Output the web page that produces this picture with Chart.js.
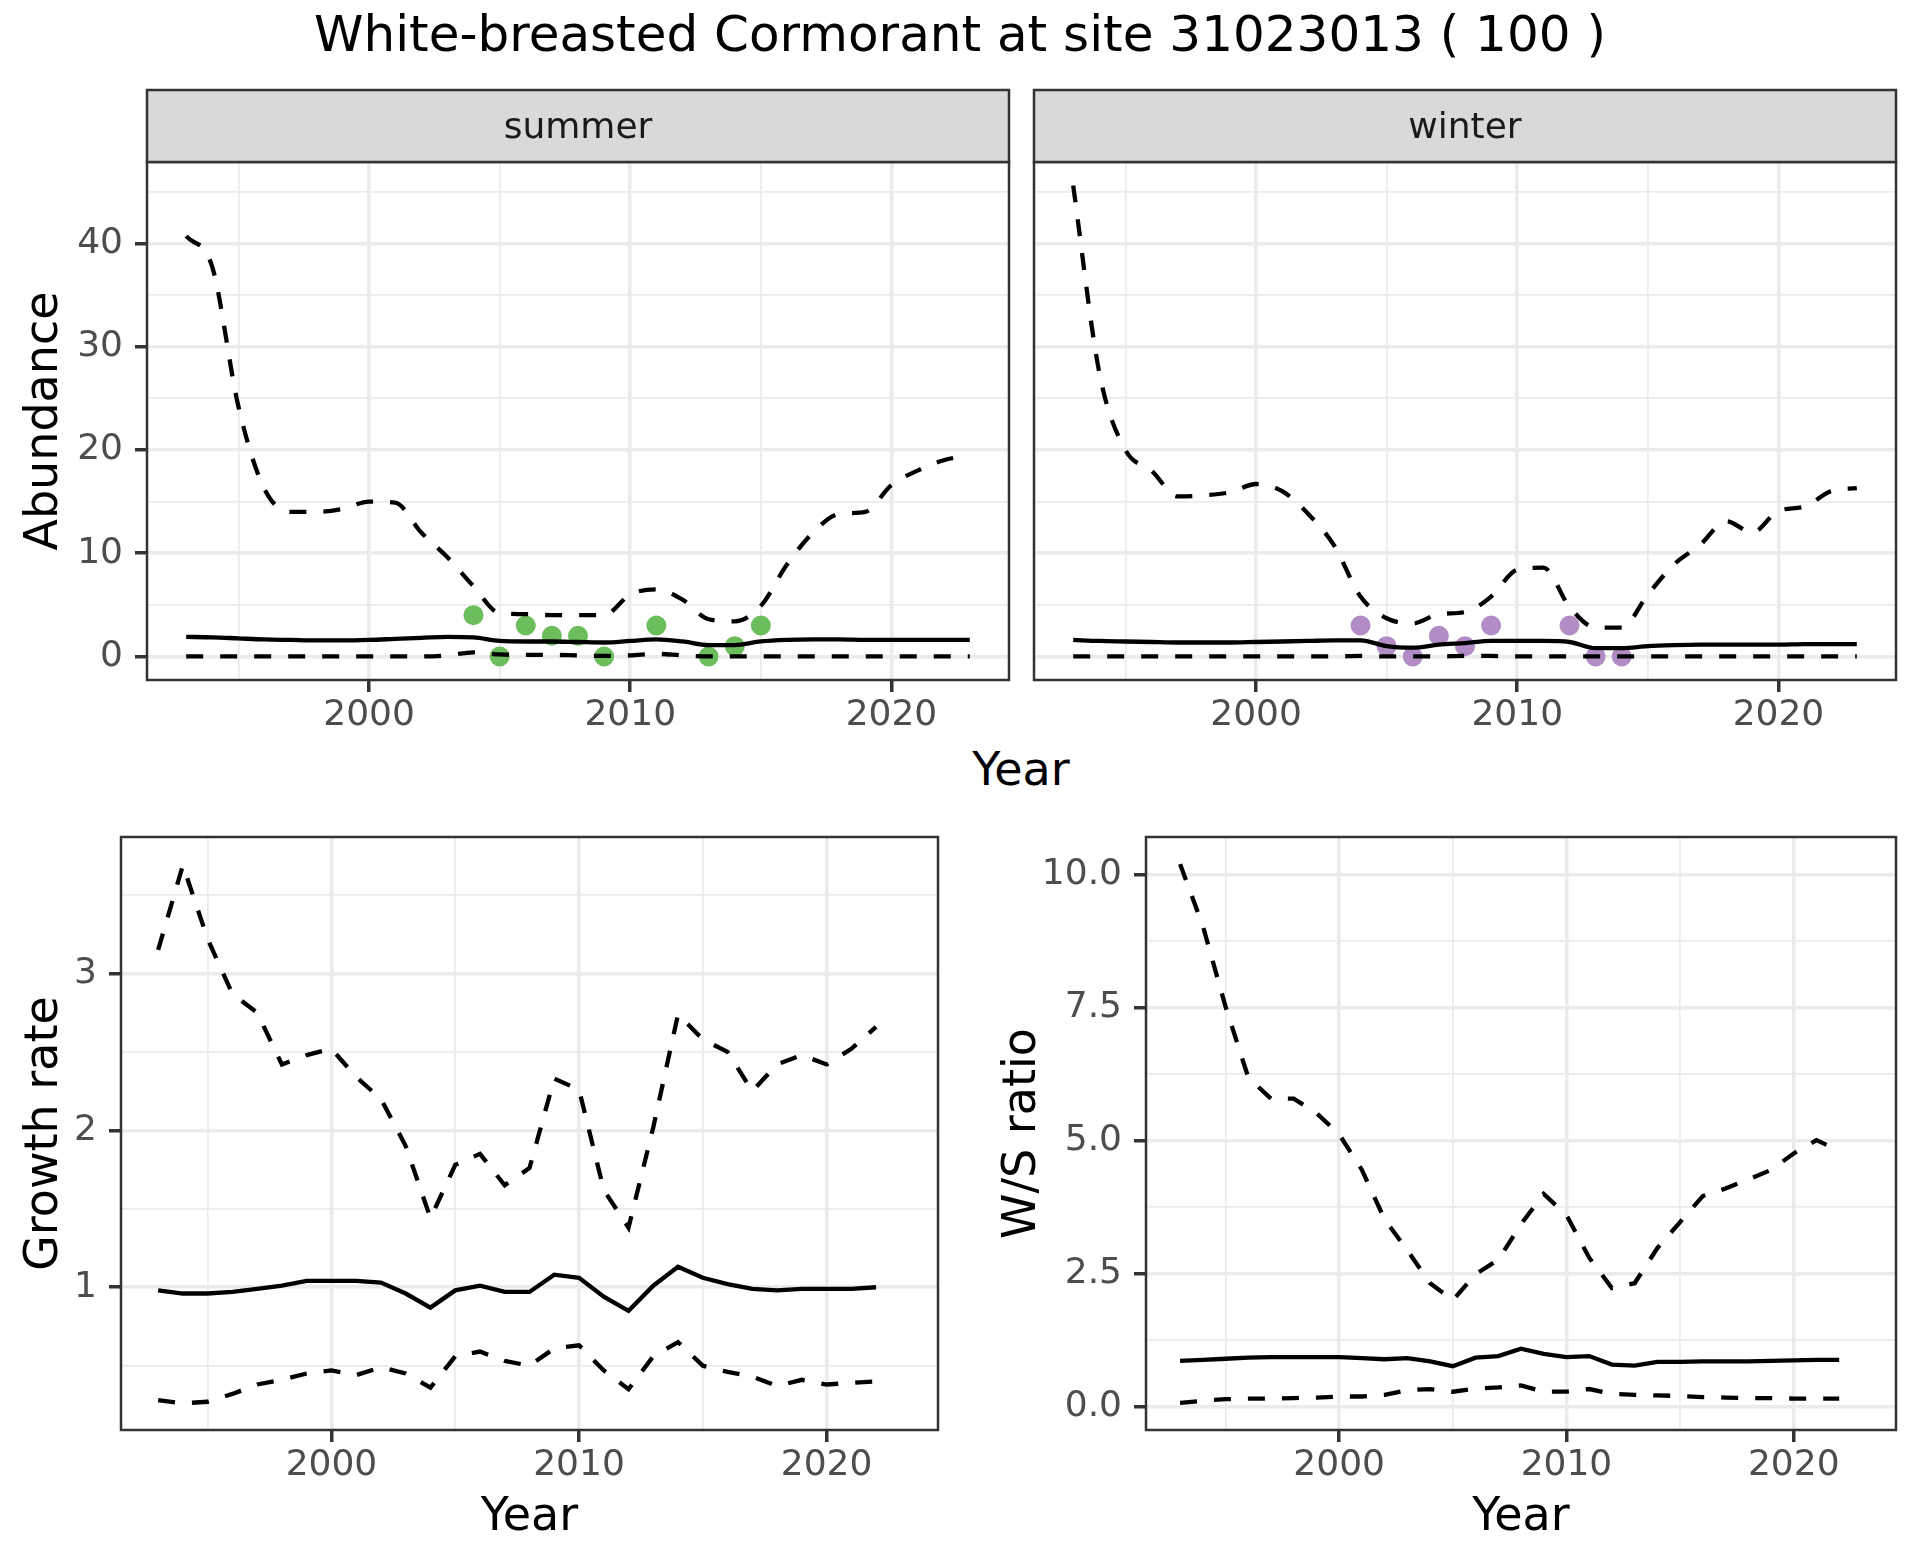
<!DOCTYPE html>
<html>
<head>
<meta charset="utf-8">
<script src="https://cdn.jsdelivr.net/npm/chart.js@4.4.1/dist/chart.umd.min.js"></script>
<style>
  body { margin: 0; background: #fff; }
  #wrap { position: relative; width: 1920px; height: 1560px; background: #fff; font-family: "DejaVu Sans", sans-serif; }
  canvas { position: absolute; }
  .lbl { position: absolute; white-space: nowrap; transform: translate(-50%, -50%); line-height: 1; color: #000; }
</style>
</head>
<body>
<div id="wrap">
  <div class="lbl" style="left:960px; top:34px; font-size:50px;">White-breasted Cormorant at site 31023013 ( 100 )</div>
  <div class="lbl" style="left:1021px; top:769px; font-size:46px;">Year</div>
  <canvas id="c-summer" style="left:0; top:80px;" width="1020" height="680"></canvas>
  <canvas id="c-winter" style="left:1020px; top:80px;" width="900" height="680"></canvas>
  <canvas id="c-growth" style="left:0; top:780px;" width="960" height="780"></canvas>
  <canvas id="c-ratio" style="left:960px; top:780px;" width="960" height="780"></canvas>
</div>
<script>
// ── data ────────────────────────────────────────────────────────────────
const yearsAbund = [1993,1994,1995,1996,1997,1998,1999,2000,2001,2002,2003,2004,2005,2006,2007,
  2008,2009,2010,2011,2012,2013,2014,2015,2016,2017,2018,2019,2020,2021,2022,2023];
const yearsRate = yearsAbund.slice(0, 30);

const summerUpper = [40.7,37.7,24.2,16.2,14.0,14.0,14.3,15.0,14.9,12.0,9.6,6.8,4.2,4.1,4.0,
  4.0,4.0,6.0,6.5,5.5,3.6,3.4,4.9,8.9,12.0,13.8,14.0,16.6,18.0,19.0,19.5];
const summerMean = [1.9,1.85,1.75,1.65,1.6,1.55,1.55,1.6,1.7,1.8,1.9,1.85,1.5,1.45,1.45,
  1.4,1.35,1.5,1.65,1.45,1.1,1.1,1.45,1.6,1.65,1.65,1.6,1.6,1.6,1.6,1.6];
const summerLower = [0,0,0,0,0,0,0,0,0,0,0.1,0.4,0.2,0.15,0.15,
  0.1,0.05,0.1,0.25,0.1,0,0,0,0,0,0,0,0,0,0,0];
const summerObsYears = [2004,2005,2006,2007,2008,2009,2011,2013,2014,2015];
const summerObs = [4,0,3,2,2,0,3,0,1,3];

const winterUpper = [45.6,27.5,20.0,18.0,15.5,15.6,15.9,16.7,16.0,13.8,10.7,5.8,3.7,3.2,4.1,
  4.3,5.8,8.4,8.6,4.8,2.8,2.8,6.0,8.9,10.8,13.1,12.0,14.1,14.5,16.0,16.3];
const winterMean = [1.6,1.5,1.45,1.4,1.35,1.35,1.35,1.4,1.45,1.5,1.55,1.55,1.0,0.85,1.15,
  1.3,1.5,1.5,1.5,1.4,0.8,0.8,1.0,1.1,1.15,1.15,1.15,1.15,1.2,1.2,1.2];
const winterLower = [0,0,0,0,0,0,0,0,0,0,0,0.05,0,0,0,
  0.05,0.05,0,0,0,0,0,0,0,0,0,0,0,0,0,0];
const winterObsYears = [2004,2005,2006,2007,2008,2009,2012,2013,2014];
const winterObs = [3,1,0,2,1,3,3,0,0];

const growthUpper = [3.15,3.69,3.22,2.87,2.75,2.42,2.48,2.52,2.34,2.2,1.9,1.44,1.78,1.85,1.65,
  1.76,2.33,2.26,1.62,1.38,2.02,2.74,2.58,2.5,2.25,2.42,2.48,2.42,2.52,2.66];
const growthMean = [0.98,0.96,0.96,0.97,0.99,1.01,1.04,1.04,1.04,1.03,0.96,0.87,0.98,1.01,0.97,
  0.97,1.08,1.06,0.94,0.85,1.01,1.13,1.06,1.02,0.99,0.98,0.99,0.99,0.99,1.0];
const growthLower = [0.28,0.26,0.27,0.32,0.38,0.41,0.45,0.47,0.44,0.49,0.45,0.36,0.56,0.59,0.53,
  0.5,0.61,0.63,0.47,0.35,0.56,0.65,0.5,0.46,0.43,0.37,0.41,0.38,0.39,0.4];

const ratioUpper = [10.2,9.04,7.52,6.19,5.79,5.79,5.52,5.12,4.45,3.52,2.94,2.32,2.0,2.49,2.76,
  3.43,4.0,3.6,2.8,2.23,2.32,2.98,3.47,3.96,4.1,4.27,4.45,4.76,5.01,4.81];
const ratioMean = [0.86,0.88,0.9,0.92,0.93,0.93,0.93,0.93,0.91,0.89,0.91,0.85,0.76,0.92,0.95,
  1.09,0.99,0.93,0.95,0.79,0.77,0.84,0.84,0.85,0.85,0.85,0.86,0.87,0.88,0.88];
const ratioLower = [0.07,0.11,0.14,0.15,0.15,0.16,0.17,0.19,0.19,0.22,0.31,0.33,0.28,0.34,0.36,
  0.4,0.28,0.28,0.33,0.24,0.22,0.21,0.2,0.18,0.17,0.16,0.16,0.15,0.15,0.15];

// tick breaks (major get labels, minor only a thin grid line)
const yearMajor = [2000, 2010, 2020];
const yearMinor = [1995, 2005, 2015];
const abundMajor = [0, 10, 20, 30, 40];
const abundMinor = [5, 15, 25, 35, 45];
const growthMajor = [1, 2, 3];
const growthMinor = [0.5, 1.5, 2.5, 3.5];
const ratioMajor = [0, 2.5, 5, 7.5, 10];
const ratioMinor = [1.25, 3.75, 6.25, 8.75];

// ── shared styling ──────────────────────────────────────────────────────
const FONT = "'DejaVu Sans', sans-serif";
const pts = (xs, ys) => xs.map((x, i) => ({ x, y: ys[i] }));

function gridOpts(major, showTicks) {
  const isMajor = ctx => ctx.tick && major.includes(ctx.tick.value);
  return {
    color: "#EBEBEB",
    lineWidth: ctx => isMajor(ctx) ? 3.5 : 1.75,
    drawTicks: showTicks,
    tickLength: 12,
    tickWidth: 3.5,
    tickColor: ctx => isMajor(ctx) ? "#333333" : "rgba(0,0,0,0)",
  };
}

function axis(min, max, major, minor, opts) {
  const o = opts || {};
  return {
    type: "linear",
    min, max,
    afterBuildTicks: s => { s.ticks = major.concat(minor).sort((a, b) => a - b).map(v => ({ value: v })); },
    afterFit: s => { if (o.width != null) s.width = o.width; if (o.height != null) s.height = o.height; },
    grid: gridOpts(major, o.showTicks !== false),
    border: { display: false },
    ticks: {
      display: o.showTicks !== false,
      autoSkip: false, maxRotation: 0, minRotation: 0,
      padding: o.tickPad != null ? o.tickPad : 12,
      color: "#4D4D4D",
      font: { family: FONT, size: 36 },
      callback: v => major.includes(v) ? (o.fmt ? o.fmt(v) : String(v)) : "",
    },
    title: o.title ? {
      display: true, text: o.title, color: "#000",
      font: { family: FONT, size: 46, lineHeight: 1 },
      padding: o.titlePad,
    } : { display: false },
  };
}

function lineSets(xs, upper, mean, lower, smooth) {
  const base = { borderColor: "#000", borderWidth: 4.3, pointRadius: 0, fill: false, tension: 0,
    cubicInterpolationMode: smooth ? "monotone" : "default", borderCapStyle: "butt" };
  return [
    { ...base, data: pts(xs, upper), borderDash: [17, 17] },
    { ...base, data: pts(xs, lower), borderDash: [17, 17] },
    { ...base, data: pts(xs, mean) },
  ];
}

const panelBorder = {
  id: "panelBorder",
  afterDatasetsDraw(chart) {
    const { ctx, chartArea: a } = chart;
    ctx.save();
    ctx.strokeStyle = "#333333";
    ctx.lineWidth = 2.5;
    ctx.strokeRect(a.left, a.top, a.right - a.left, a.bottom - a.top);
    ctx.restore();
  },
};

function strip(label) {
  return {
    id: "strip",
    afterDraw(chart) {
      const { ctx, chartArea: a } = chart;
      const top = 10;
      ctx.save();
      ctx.fillStyle = "#D9D9D9";
      ctx.fillRect(a.left, top, a.right - a.left, a.top - top);
      ctx.strokeStyle = "#333333";
      ctx.lineWidth = 2.5;
      ctx.strokeRect(a.left, top, a.right - a.left, a.top - top);
      ctx.fillStyle = "#1A1A1A";
      ctx.font = "36px " + FONT;
      ctx.textAlign = "center";
      ctx.textBaseline = "middle";
      ctx.fillText(label, (a.left + a.right) / 2, (top + a.top) / 2 + 3);
      ctx.restore();
    },
  };
}

const common = {
  responsive: false,
  animation: false,
  events: [],
  plugins: { legend: { display: false }, tooltip: { enabled: false } },
};

// ── 1. summer abundance ────────────────────────────────────────────────
new Chart(document.getElementById("c-summer"), {
  type: "line",
  data: {
    datasets: [
      ...lineSets(yearsAbund, summerUpper, summerMean, summerLower, true),
      { type: "scatter", data: pts(summerObsYears, summerObs), backgroundColor: "#6CBD5C",
        borderWidth: 0, pointRadius: 10 },
    ],
  },
  options: {
    ...common,
    layout: { padding: { top: 82, right: 11, left: 0, bottom: 0 } },
    scales: {
      x: axis(1991.5, 2024.5, yearMajor, yearMinor, { height: 80, tickPad: 2 }),
      y: axis(-2.28, 47.88, abundMajor, abundMinor, { width: 147, title: "Abundance", titlePad: { top: 22, bottom: 0 } }),
    },
  },
  plugins: [panelBorder, strip("summer")],
});

// ── 2. winter abundance ────────────────────────────────────────────────
new Chart(document.getElementById("c-winter"), {
  type: "line",
  data: {
    datasets: [
      ...lineSets(yearsAbund, winterUpper, winterMean, winterLower, true),
      { type: "scatter", data: pts(winterObsYears, winterObs), backgroundColor: "#B28CC5",
        borderWidth: 0, pointRadius: 10 },
    ],
  },
  options: {
    ...common,
    layout: { padding: { top: 82, right: 24, left: 0, bottom: 0 } },
    scales: {
      x: axis(1991.5, 2024.5, yearMajor, yearMinor, { height: 80, tickPad: 2 }),
      y: axis(-2.28, 47.88, abundMajor, abundMinor, { width: 14, showTicks: false }),
    },
  },
  plugins: [panelBorder, strip("winter")],
});

// ── 3. growth rate ─────────────────────────────────────────────────────
new Chart(document.getElementById("c-growth"), {
  type: "line",
  data: { datasets: lineSets(yearsRate, growthUpper, growthMean, growthLower, false) },
  options: {
    ...common,
    layout: { padding: { top: 57, right: 22, left: 0, bottom: 0 } },
    scales: {
      x: axis(1991.5, 2024.5, yearMajor, yearMinor, { height: 130, tickPad: 2, title: "Year", titlePad: { top: 0, bottom: 19 } }),
      y: axis(0.09, 3.87, growthMajor, growthMinor, { width: 121, title: "Growth rate", titlePad: { top: 22, bottom: 0 } }),
    },
  },
  plugins: [panelBorder],
});

// ── 4. W/S ratio ───────────────────────────────────────────────────────
new Chart(document.getElementById("c-ratio"), {
  type: "line",
  data: { datasets: lineSets(yearsRate, ratioUpper, ratioMean, ratioLower, false) },
  options: {
    ...common,
    layout: { padding: { top: 57, right: 24, left: 0, bottom: 0 } },
    scales: {
      x: axis(1991.5, 2024.5, yearMajor, yearMinor, { height: 130, tickPad: 2, title: "Year", titlePad: { top: 0, bottom: 19 } }),
      y: axis(-0.44, 10.71, ratioMajor, ratioMinor, { width: 186, title: "W/S ratio", titlePad: { top: 40, bottom: 0 },
        fmt: v => v.toFixed(1) }),
    },
  },
  plugins: [panelBorder],
});
</script>
</body>
</html>
